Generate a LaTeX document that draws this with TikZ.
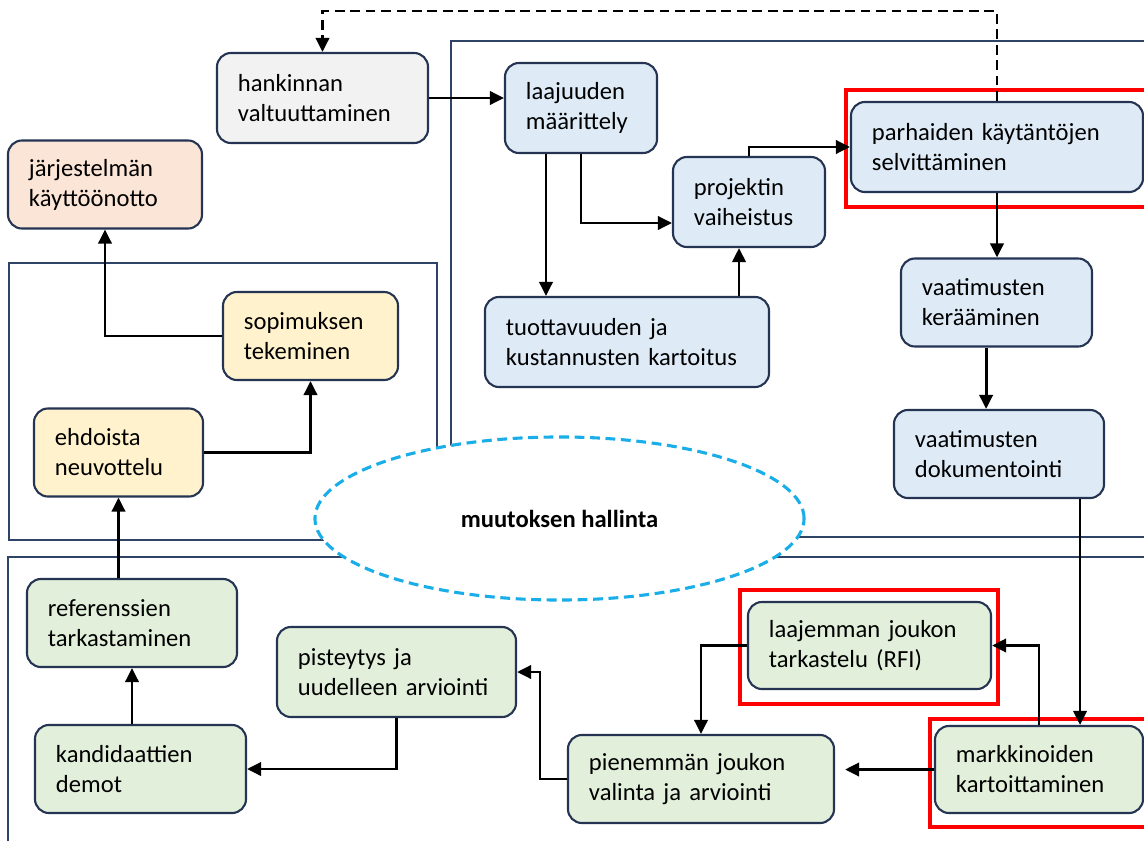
\documentclass[tikz,border=0pt]{standalone}
\usepackage{fontspec}
\setmainfont{Carlito}
\usepackage{xcolor}
\usetikzlibrary{shapes.geometric}
\usetikzlibrary{arrows.meta}
\definecolor{boxline}{HTML}{243452}
\definecolor{frameline}{HTML}{2F4366}
\definecolor{chgblue}{HTML}{1AAEE8}
\definecolor{fillgray}{HTML}{F2F2F2}
\definecolor{fillpeach}{HTML}{FBE5D6}
\definecolor{fillblue}{HTML}{DEEBF7}
\definecolor{fillyellow}{HTML}{FFF2CC}
\definecolor{fillgreen}{HTML}{E2EFDA}

\begin{document}
\begin{tikzpicture}[x=0.025cm,y=-0.025cm,
  box/.style={draw=boxline,line width=1.5pt,rounded corners=0.35cm,align=left,
    inner xsep=0.525cm,inner ysep=0pt,minimum height=2.2cm,
    font=\fontsize{17.5}{21.3}\selectfont},
  arr/.style={line width=2pt,-{Triangle[length=10pt,width=9.5pt]}},
  frame/.style={draw=frameline,line width=1.1pt},
  redbox/.style={draw=red,line width=2.6pt}]
 \clip (0,0) rectangle (1144,841);
 \useasboundingbox (0,0) rectangle (1144,841);
 \fill[white] (0,0) rectangle (1144,841);

 \draw[frame] (451,41) rectangle (1160,537);
 \draw[frame] (9,263) rectangle (437,540);
 \draw[frame] (8,557) rectangle (1160,860);

 \node[ellipse,draw=chgblue,line width=2.2pt,dash pattern=on 7pt off 4pt,fill=white,
   minimum width=12.225cm,minimum height=4.075cm,inner sep=0pt,
   font=\fontsize{17.5}{21.3}\selectfont\bfseries] (muutos) at (559.5,518.5) {muutoksen hallinta};

 \draw[redbox] (846,90) rectangle (1160,207);
 \draw[redbox] (740,590) rectangle (998,704);
 \draw[redbox] (930,719) rectangle (1160,827);

 %%%%%%%%%%%%%%%%%%%%%%%%%%%%%%%%%%%
 \node[box,fill=fillgray,text width=4.225cm,minimum height=2.25cm] (hank) at (322.5,98) {hankinnan\\valtuuttaminen};
 \node[box,fill=fillpeach,text width=3.8cm] (jarj) at (105,184.5) {järjestelmän\\käyttöönotto};

 \node[box,fill=fillblue,text width=2.75cm,minimum height=2.25cm] (laaj) at (581,108) {laajuuden\\määrittely};
 \node[box,fill=fillblue,text width=2.75cm,minimum height=2.25cm] (proj) at (749,202) {projektin\\vaiheistus};
 \node[box,fill=fillblue,text width=6.25cm,minimum height=2.25cm] (parh) at (997,147) {parhaiden~käytäntöjen\\selvittäminen};
 \node[box,fill=fillblue,text width=6.05cm,minimum height=2.25cm] (tuot) at (627,342) {tuottavuuden~ja\\kustannusten~kartoitus};
 \node[box,fill=fillblue,text width=3.725cm] (keraa) at (996.5,302.5) {vaatimusten\\kerääminen};
 \node[box,fill=fillblue,text width=4.2cm] (dok) at (999,454) {vaatimusten\\dokumentointi};

 \node[box,fill=fillyellow,text width=3.325cm] (sop) at (310.5,336) {sopimuksen\\tekeminen};
 \node[box,fill=fillyellow,text width=3.175cm] (ehd) at (118.5,452.5) {ehdoista\\neuvottelu};

 \node[box,fill=fillgreen,text width=4.15cm,minimum height=2.175cm] (mark) at (1039,769.5) {markkinoiden\\kartoittaminen};
 \node[box,fill=fillgreen,text width=5.025cm,minimum height=2.175cm] (laajemman) at (869.5,645.5) {laajemman~joukon\\tarkastelu~(RFI)};
 \node[box,fill=fillgreen,text width=5.6cm] (pien) at (701,779) {pienemmän~joukon\\valinta~ja~arviointi};
 \node[box,fill=fillgreen,text width=4.925cm,minimum height=2.25cm] (pist) at (396.5,672) {pisteytys~ja\\uudelleen~arviointi};
 \node[box,fill=fillgreen,text width=4.225cm] (kand) at (140.5,769) {kandidaattien\\demot};
 \node[box,fill=fillgreen,text width=4.2cm] (ref) at (132,623) {referenssien\\tarkastaminen};

 %%%%%%%%%%%%%%%%%%%%%%%%%%%%%%%%%%%
 \draw[arr] (hank.east) -- (hank.east -| laaj.west);
 \draw[arr] ([xshift=-0.875cm]laaj.south) -- ([xshift=-0.875cm]laaj.south |- tuot.north);
 \draw[arr] (laaj.south) |- ([yshift=-0.525cm]proj.west);
 \draw[arr] ([xshift=2.8cm]tuot.north) -- ([xshift=2.8cm]tuot.north |- proj.south);
 \draw[arr] (proj.north) |- (parh.west);
 \draw[arr] (parh.south) -- (parh.south |- keraa.north);
 \draw[arr] ([xshift=-0.26cm]keraa.south) -- ([xshift=-0.26cm]keraa.south |- dok.north);
 \draw[arr] ([xshift=2.025cm]dok.south) -- ([xshift=2.025cm]dok.south |- mark.north);
 \draw[arr] (mark.north) |- (laajemman.east);
 \draw[arr,shorten >=0.25cm] (mark.west) -- (mark.west -| pien.east);
 \draw[arr] (laajemman.west) -| (pien.north);
 \draw[arr] (pien.west) -- ++(-27,0) |- (pist.east);
 \draw[arr] (pist.south) |- (kand.east);
 \draw[arr] (kand.north -| ref.south) -- (ref.south);
 \draw[arr] (ref.north -| ehd.south) -- (ehd.south);
 \draw[arr] (ehd.east) -| (sop.south);
 \draw[arr] (sop.west) -| (jarj.south);
 \draw[arr,dash pattern=on 7pt off 4pt] (parh.north) -- ++(0,-90) -| (hank.north);

\end{tikzpicture}
\end{document}
